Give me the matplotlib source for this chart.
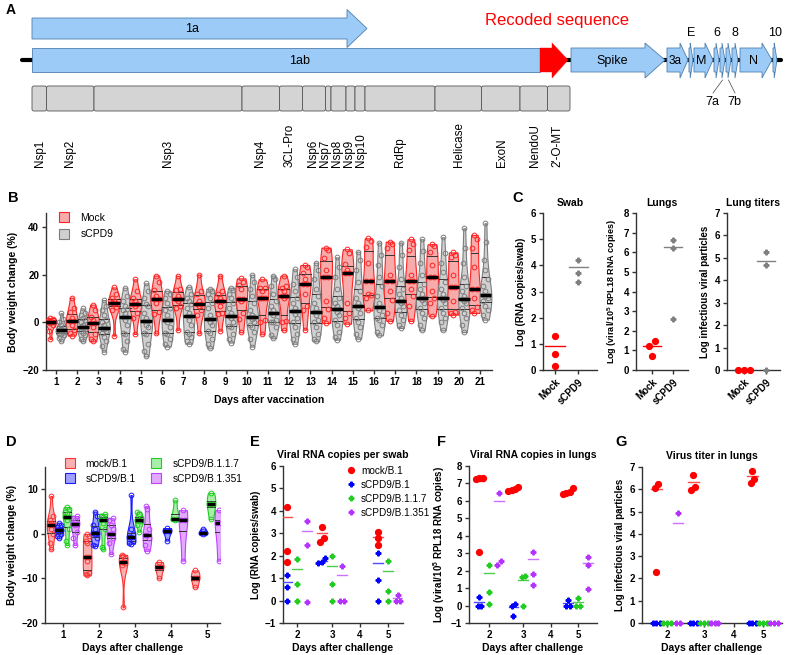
import numpy as np
import matplotlib
matplotlib.use('Agg')
import matplotlib.pyplot as plt
from matplotlib.patches import Polygon, FancyBboxPatch
from matplotlib.lines import Line2D

plt.rcParams['font.family'] = ['Liberation Sans', 'DejaVu Sans']
plt.rcParams['mathtext.fontset'] = 'custom'
plt.rcParams['mathtext.rm'] = 'Liberation Sans'
plt.rcParams['mathtext.bf'] = 'Liberation Sans:bold'

# ======================= DATA =======================
# Panel A : genome map (coordinates along the drawn genome)
nsp_names = ['Nsp1', 'Nsp2', 'Nsp3', 'Nsp4', '3CL-Pro', 'Nsp6', 'Nsp7', 'Nsp8',
             'Nsp9', 'Nsp10', 'RdRp', 'Helicase', 'ExoN', 'NendoU', "2'-O-MT"]
nsp_bounds = [32, 46.5, 94, 242, 279.5, 302.5, 325.5, 331, 346, 355, 365,
              435, 481.5, 520, 547.5, 570]
nsp_label_x = [40, 70, 168, 260, 290, 313, 325, 337, 349, 361, 400, 459, 502, 535, 557]
orf_names = ['Spike', '3a', 'E', 'M', '6', '7a', '7b', '8', 'N', '10']
orf_start = [571, 667, 689, 694, 714, 720, 726, 732, 740, 773]
orf_end = [665, 688, 693, 713, 719, 725, 731, 738, 772, 777]

# Panel B : body weight change (%) after vaccination
vacc_days = list(range(1, 22))
mock_weights = [
    [-7, -3.5, -1, -0.5, 0, 0, 0.5, 1, 1.2, 1.8],
    [-5.6, -4.5, -3.3, -1, 0.5, 0.5, 2, 4.2, 6, 10.3],
    [-8, -7, -5, -2, -0.5, -0.5, 1, 2.4, 5, 7.4],
    [-5.6, 5, 6.5, 7.5, 7.9, 8, 9, 10, 12, 14.6],
    [-4.9, 2, 4, 7, 7.7, 7.7, 9, 10, 13, 18],
    [-4.7, 3.5, 4.2, 8, 9.6, 9.6, 11, 13.6, 17, 19.6],
    [-3.2, 6, 6.7, 9, 9.9, 9.9, 11, 13.5, 14, 19.5],
    [-4.6, 3, 5.2, 7, 7.7, 7.7, 9, 12, 13, 20],
    [-3.5, 3.5, 3.8, 7, 8.9, 8.9, 10, 12, 13, 19.6],
    [-4.2, 1.5, 3.8, 9, 9.9, 9.9, 14, 15.6, 17, 18.4],
    [-5, 0, 1, 10, 10.3, 10.3, 13, 14.2, 14.5, 18],
    [-3.3, 0, 0.7, 10, 11.1, 11.1, 13, 14.2, 15, 19.6],
    [-3.1, 5, 6.7, 12, 16, 16, 18, 20.8, 23, 24],
    [-0.3, 2, 5.5, 9, 18.8, 18.8, 22, 26.8, 30.5, 31.3],
    [-0.6, 2, 3.7, 8, 20.5, 20.5, 22, 24.3, 29, 30.6],
    [5, 10, 11.4, 12, 17.4, 17.4, 25, 31.4, 34, 35.2],
    [0.6, 4, 9.3, 13, 17.4, 17.4, 20, 31, 33, 33.8],
    [0.6, 7, 11, 14, 17.4, 17.4, 20, 30.3, 33, 34.8],
    [2.5, 8, 10, 13, 18.8, 18.8, 24, 29.3, 32, 32.7],
    [3.2, 3.9, 4.5, 9, 14.6, 14.6, 20, 27.5, 28, 29.3],
    [3.9, 5, 6.2, 10, 13.9, 13.9, 23, 31, 35, 36.6],
]
scpd9_weights = [
    [-8, -6.5, -5.5, -5, -4.5, -4, -3.5, -3.2, -3.2, -3, -2.5, -2, -1, 0, 1.5, 3.8],
    [-8, -7, -5.5, -4.5, -3.5, -3, -2.2, -1.8, -1.8, -1, 0, 1, 2, 3, 4, 5.8],
    [-12.3, -10, -8, -6, -4.5, -3.5, -2.8, -2.2, -2.2, -1, 0, 1, 3, 5, 7, 9.3],
    [-12.3, -11, -8, -5, -4.5, -1, 1, 2.4, 2.4, 4, 5, 5.5, 7, 9, 11, 14.5],
    [-14.3, -12, -9, -5, -4.5, -2, -1, 0.7, 0.7, 2, 4, 7, 7.5, 10, 13, 16.3],
    [-10.2, -9, -7, -5, -4.5, -2, 0, 1, 1, 3, 5, 6, 8, 10, 12, 13.2],
    [-9, -8, -6, -5, -4, -1, 1, 2.8, 2.8, 4, 6, 7.5, 9, 10, 12, 14.9],
    [-10.9, -9, -7, -4.5, -3.5, -1, 0, 1.4, 1.4, 3, 6, 8, 10, 12, 13, 14.1],
    [-8.5, -7, -5, -2, -1.5, 0, 2, 2.8, 2.8, 4, 6, 8, 10, 12, 13.5, 14.5],
    [-10.2, -7, -4, -2, -1, 0, 1.5, 2.1, 2.1, 3, 5, 8, 11, 14, 17, 19.9],
    [-6.7, -5.5, -2, 0, 0, 1, 3, 3.8, 3.8, 5, 7, 9, 12, 15, 18, 19.6],
    [-9, -7, -5, -2, 0, 2, 3.5, 4.8, 4.8, 6, 8, 10, 13, 16, 19, 22.2],
    [-8, -7, -5, -2, 0, 1, 3, 4.4, 4.4, 6, 8, 11, 14, 18, 22, 25],
    [-7.3, -6, -4, -1, 1, 3, 4.5, 5.5, 5.5, 7, 8, 10, 14, 19, 23, 27.2],
    [-6.9, -5, -2, 0, 2, 4, 6, 6.7, 6.7, 8, 10, 13, 17, 22, 26, 29.6],
    [-5.5, -4, -1, 1, 2, 3, 5, 6.5, 6.5, 8, 11, 15, 19, 24, 28, 33.4],
    [-2.4, -1, 1, 3, 5, 7, 8, 9, 9, 10, 12, 14, 18, 23, 28, 33.4],
    [-3.4, -1, 2, 4, 6, 8, 9.5, 10.3, 10.3, 12, 14, 16, 20, 25, 30, 34.8],
    [-3.4, 0, 2, 4, 6, 8, 9.5, 10.3, 10.3, 12, 14, 17, 21, 25, 29, 35.6],
    [-4.1, -1, 2, 4, 6, 8, 9, 9.7, 9.7, 11, 13, 15, 19, 25, 31, 39.4],
    [1.1, 3, 5, 7, 9, 10, 11, 11.4, 11.4, 13, 15, 18, 22, 26, 33.5, 41.5],
]

# Panel C
c_groups = ['Mock', 'sCPD9']
c_swab_mock = [1.3, 0.6, 0.15]
c_swab_scpd9 = [4.22, 3.72, 3.35]
c_swab_lines = [0.92, 3.92]
c_lung_mock = [1.5, 1.2, 0.7]
c_lung_scpd9 = [6.6, 6.2, 2.6]
c_lung_lines = [1.22, 6.27]
c_titer_mock = [0, 0, 0]
c_titer_scpd9 = [5.25, 4.68, 0]
c_titer_lines = [0.0, 4.87]

# Panel D : body weight change (%) after challenge
ch_days_d = [1, 2, 3, 4, 5]
d_mock = [[-3.5, -2, 0, 1, 2, 2, 2.5, 3, 4, 8.5],
          [-9.3, -9, -8.7, -6, -5.2, -5.2, -2, -1.5, -0.5, 0],
          [-16.5, -7, -6.5, -6.3, -6.3, -5.5, -5, -4.7],
          [-10, -7.5, -7.5, -6.3],
          [-12, -9.8, -9.8, -8.2]]
d_b1 = [[-1, -0.5, 0, 0.5, 0.8, 0.8, 1, 1.5, 2, 2.5],
        [-2.7, -2.5, -1, 0, 0.2, 0.2, 1, 2, 4, 5],
        [-2.2, -2, -1.5, -0.8, -0.8, 0, 1, 8.7],
        [-1.5, 0.7, 0.7, 1.3],
        [0, 0.2, 0.2, 1.2]]
d_b117 = [[-2.5, -1.5, 1, 3, 3.7, 3.7, 4.5, 5, 5.5, 6],
          [-3.5, -3, 1, 2.5, 3.2, 3.2, 3.8, 4, 4.5],
          [0.5, 2, 2.8, 3, 3, 3.5, 4.5, 5],
          [3, 3.3, 3.3, 7.5],
          [3.3, 6.8, 6.8, 9.2]]
d_b1351 = [[-2.5, -1, 0.5, 2, 2.1, 2.1, 3, 3.5, 4],
           [-4.5, -2, -1, 0, 0, 1, 2, 3, 3.5],
           [-3.8, -2.5, -1, -0.2, -0.2, 1, 5.5, 6.2],
           [-6, 3, 3, 5.3],
           [-6, 2.5, 2.5, 5.3]]
group_names = ['mock/B.1', 'sCPD9/B.1', 'sCPD9/B.1.1.7', 'sCPD9/B.1.351']

# Panels E-G : days 2, 3, 5 after challenge
ch_days = [2, 3, 5]
axis_days = [2, 3, 4, 5]
e_mock = [[4.17, 2.2, 1.72], [3.3, 2.78, 2.6], [2.8, 2.5, 3.05]]
e_b1 = [[1.15, 0.6, 0], [1.9, 1.7, 1.68], [2.12, 0.93, 0]]
e_b117 = [[1.85, 0.75, 0], [2.0, 0.75, 0], [1.75, 0.42, 0]]
e_b1351 = [[3.55, 2.5, -0.05], [1.55, 0, 0], [0.27, 0, 0]]
e_lines = [[3.72, 3.0, 2.82], [0.82, 1.78, 1.68], [1.42, 1.55, 1.3], [3.12, 1.12, 0.1]]

f_mock = [[7.3, 7.27, 7.33, 3.08], [6.62, 6.58, 6.7, 6.81], [6.5, 6.45, 6.4, 6.75]]
f_b1 = [[0.48, 0, 0], [0.07, 0, -0.58], [0.3, 0, 0]]
f_b117 = [[2.33, 0.78, 0.1], [1.67, 1.65, 0], [0.45, 0, 0]]
f_b1351 = [[6.47, 2.55, 2.35], [3.08, 1.8, 1.18], [2.77, 2.3, 0.93]]
f_lines = [[7.15, 6.62, 6.55], [0.2, -0.08, 0.13], [1.87, 1.47, 0.2], [6.0, 2.65, 2.43]]

g_mock = [[6.05, 6.25, 2.3], [6.65, 6.1, 5.95], [6.83, 6.47, 6.3]]
g_b1 = [[0, 0, 0], [0, 0, 0], [0, 0, 0]]
g_b117 = [[0, 0, 0], [0, 0, 0], [0, 0, 0]]
g_b1351 = [[4.95, 0, 0], [0, 0, 0], [0, 0, 0]]
g_lines = [[6.0, 6.33, 6.6], [0, 0, 0], [0, 0, 0], [4.47, 0, 0]]

# ======================= STYLE =======================
RED, BLUE, GREEN, PURPLE, GRAY = '#ff0000', '#0000ff', '#22cc22', '#b533ff', '#808080'
LUNG_LABEL = r'Log (viral/10$^{\mathbf{5}}$ RPL18 RNA copies)'
W, H = 785, 655
fig = plt.figure(figsize=(W / 100, H / 100), dpi=100)


def ax_px(l, t, r, b):
    return fig.add_axes([l / W, 1 - b / H, (r - l) / W, (b - t) / H])


def style(ax, fs=7):
    for s in ['top', 'right']:
        ax.spines[s].set_visible(False)
    for s in ['left', 'bottom']:
        ax.spines[s].set_color('#333333')
        ax.spines[s].set_linewidth(1.0)
    ax.tick_params(direction='out', length=3, width=1, color='#333333',
                   labelsize=fs, pad=2)
    for lab in ax.get_xticklabels() + ax.get_yticklabels():
        lab.set_fontweight('bold')


def fig_text(x, y, s, **kw):
    fig.text(x / W, 1 - y / H, s, **kw)


def violin(ax, data, pos, width, edge, fill, dx):
    d = np.sort(np.asarray(data, float))
    lo, hi = d.min(), d.max()
    sd = d.std(ddof=1)
    bw = max(sd * len(d) ** (-0.2), 0.6)
    ys = np.linspace(lo, hi, 150)
    dens = np.exp(-0.5 * ((ys[:, None] - d[None, :]) / bw) ** 2).sum(1)
    half = dens / dens.max() * width / 2
    ax.fill_betweenx(ys, pos - half, pos + half, facecolor=fill, edgecolor=edge,
                     lw=0.8, zorder=2)
    q1, med, q3 = np.percentile(d, [25, 50, 75])
    for q in (q1, q3):
        hw = np.interp(q, ys, half)
        ax.plot([pos - hw, pos + hw], [q, q], color='#333333', lw=0.7, zorder=3)
    hw = np.interp(med, ys, half)
    ax.plot([pos - max(hw, width * 0.3), pos + max(hw, width * 0.3)], [med, med],
            color='black', lw=2.4, zorder=5, solid_capstyle='butt')
    cyc = [0, -1, 1]
    xs = []
    for i, v in enumerate(d):
        hwv = np.interp(v, ys, half)
        xs.append(pos + cyc[i % 3] * min(dx, 0.75 * hwv))
    ax.plot(xs, d, 'o', ms=3.4, mfc='none', mec=edge, mew=0.7, zorder=4)


def spread(vals, tol, dx):
    vals = np.asarray(vals, float)
    order = np.argsort(vals)
    offs = np.zeros(len(vals))
    clusters = [[order[0]]]
    for a, b in zip(order[:-1], order[1:]):
        if vals[b] - vals[a] < tol:
            clusters[-1].append(b)
        else:
            clusters.append([b])
    for c in clusters:
        k = len(c)
        for j, idx in enumerate(c):
            offs[idx] = (j - (k - 1) / 2) * dx
    return offs


def scatter_group(ax, vals, pos, color, marker, ms, tol, dx, line=None, lhalf=0.14,
                  lcolor=None):
    offs = spread(vals, tol, dx)
    ax.plot(pos + offs, vals, linestyle='none', marker=marker, ms=ms, color=color,
            mec=color, zorder=4, clip_on=False)
    if line is not None:
        ax.plot([pos - lhalf, pos + lhalf], [line, line], color=lcolor or color,
                lw=1.0, zorder=3)


# ======================= PANEL A =======================
axA = ax_px(0, 0, 785, 170)
axA.set_xlim(0, 785)
axA.set_ylim(170, 0)
axA.axis('off')
LB, EB = '#9ccbf7', '#4f7fae'
axA.plot([22, 781], [60, 60], color='black', lw=3, solid_capstyle='round', zorder=0)


def arrow(x0, x1, hl, body, head, fc, ec, lw=0.6):
    ym = (body[0] + body[1]) / 2
    hl = min(hl, (x1 - x0) * 0.7)
    xh = x1 - hl
    pts = [(x0, body[0]), (xh, body[0]), (xh, head[0]), (x1, ym),
           (xh, head[1]), (xh, body[1]), (x0, body[1])]
    axA.add_patch(Polygon(pts, closed=True, fc=fc, ec=ec, lw=lw, zorder=2))


arrow(32, 367, 20, (18, 39), (9.5, 47.5), LB, EB)
axA.text(192, 29, '1a', ha='center', va='center', fontsize=9)
axA.add_patch(Polygon([(32, 48), (540, 48), (540, 72), (32, 72)], closed=True,
                      fc=LB, ec=EB, lw=0.6, zorder=2))
axA.text(300, 61, '1ab', ha='center', va='center', fontsize=9)
arrow(540, 568, 16, (48, 72), (43, 78), '#ff0000', '#ff0000', lw=0.3)
axA.text(557, 20, 'Recoded sequence', color='#ff0000', ha='center', va='center',
         fontsize=12)
for name, s, e in zip(orf_names, orf_start, orf_end):
    hl = 20 if name == 'Spike' else (10 if name == 'N' else (8 if name in ('3a', 'M') else 3))
    arrow(s, e, hl, (48, 72), (43, 78), LB, EB)
    if name in ('Spike', '3a', 'M', 'N'):
        axA.text((s + e) / 2 - (6 if name == 'Spike' else 2), 61, name,
                 ha='center', va='center', fontsize=9 if name != '3a' else 8.5)
    elif name in ('E', '6', '8', '10'):
        axA.text((s + e) / 2, 33, name, ha='center', va='center', fontsize=9)
    else:
        lx = 712 if name == '7a' else 734
        axA.plot([(s + e) / 2, lx + 1], [80, 93], color='#444444', lw=0.5)
        axA.text(lx, 102, name, ha='center', va='center', fontsize=9)
for i in range(len(nsp_names)):
    x0, x1 = nsp_bounds[i], nsp_bounds[i + 1]
    axA.add_patch(FancyBboxPatch((x0, 86), x1 - x0, 25,
                                 boxstyle='round,pad=0,rounding_size=2',
                                 fc='#d4d4d4', ec='#555555', lw=0.6))
    axA.text(nsp_label_x[i], 167, nsp_names[i], rotation=90, ha='center',
             va='bottom', fontsize=8.4)
axA.text(6, 10, 'A', fontsize=10, fontweight='bold', va='center')

# ======================= PANEL B =======================
axB = ax_px(46, 213, 492, 370)
for i, d in enumerate(vacc_days):
    violin(axB, mock_weights[i], d - 0.26, 0.56, '#ff2222', '#f7abab', 0.1)
    violin(axB, scpd9_weights[i], d + 0.26, 0.56, '#7d7d7d', '#d0d0d0', 0.1)
axB.set_xlim(0.53, 21.57)
axB.set_ylim(-20, 45.8)
axB.set_xticks(vacc_days)
axB.set_yticks([-20, 0, 20, 40])
axB.set_ylabel('Body weight change (%)', fontsize=7.5, fontweight='bold', labelpad=3)
axB.set_xlabel('Days after vaccination', fontsize=7.5, fontweight='bold', labelpad=6)
style(axB)
hB = [Line2D([], [], ls='none', marker='s', ms=6.5, mfc='#f7abab', mec='#ff2222', mew=0.8),
      Line2D([], [], ls='none', marker='s', ms=6.5, mfc='#d0d0d0', mec='#7d7d7d', mew=0.8)]
axB.legend(hB, ['Mock', 'sCPD9'], loc='upper left', bbox_to_anchor=(-0.005, 1.06),
           frameon=False, fontsize=7.5, handletextpad=0.6, labelspacing=0.6)
fig_text(8, 198, 'B', fontsize=10.5, fontweight='bold', va='center')

# ======================= PANEL C =======================
fig_text(512, 198, 'C', fontsize=10.5, fontweight='bold', va='center')
c_specs = [
    ((543, 213, 597, 370), c_swab_mock, c_swab_scpd9, c_swab_lines, 6, (-0.52, 1.8),
     'Swab', 'Log (RNA copies/swab)', 7),
    ((636, 213, 688, 370), c_lung_mock, c_lung_scpd9, c_lung_lines, 8, (-0.75, 1.7),
     'Lungs', LUNG_LABEL, 6.5),
    ((727, 213, 780, 370), c_titer_mock, c_titer_scpd9, c_titer_lines, 7, (-0.77, 1.64),
     'Lung titers', 'Log infectious viral particles', 7),
]
for box, mvals, svals, lines, ytop, xl, title, ylab, yfs in c_specs:
    ax = ax_px(*box)
    scatter_group(ax, mvals, 0, RED, 'o', 4.2, ytop * 0.04, 0.27, lines[0], 0.42)
    scatter_group(ax, svals, 1, GRAY, 'P', 3.4, ytop * 0.04, 0.27, lines[1], 0.42)
    ax.set_xlim(*xl)
    ax.set_ylim(0, ytop)
    ax.set_yticks(range(0, ytop + 1))
    ax.set_xticks([0, 1])
    ax.set_xticklabels(c_groups, rotation=45, ha='right', rotation_mode='anchor')
    ax.set_title(title, fontsize=7.5, fontweight='bold', pad=5)
    ax.set_ylabel(ylab, fontsize=yfs, fontweight='bold', labelpad=3)
    style(ax)

# ======================= PANEL D =======================
axD = ax_px(45, 467, 220, 623)
d_sets = [(d_mock, '#ff3030', '#f8b0b0', -0.33), (d_b1, '#1a1aff', '#a0a0ff', -0.11),
          (d_b117, '#1fcc1f', '#a8eea8', 0.11), (d_b1351, '#c040ff', '#e2aaff', 0.33)]
for vals, ec, fc, off in d_sets:
    for j, day in enumerate(ch_days_d):
        violin(axD, vals[j], day + off, 0.24, ec, fc, 0.045)
axD.set_xlim(0.5, 5.36)
axD.set_ylim(-20, 15)
axD.set_xticks(ch_days_d)
axD.set_yticks([-20, -10, 0, 10])
axD.set_ylabel('Body weight change (%)', fontsize=7.5, fontweight='bold', labelpad=3)
axD.set_xlabel('Days after challenge', fontsize=7.5, fontweight='bold', labelpad=2)
style(axD)
hD = [Line2D([], [], ls='none', marker='s', ms=6.8, mfc=fc, mec=ec, mew=0.8)
      for _, ec, fc, _ in d_sets]
axD.legend(hD, group_names, loc='upper left', bbox_to_anchor=(0.03, 1.11), ncol=2,
           frameon=False, fontsize=7.3, handletextpad=0.6, labelspacing=0.5,
           columnspacing=1.0)
fig_text(6, 442, 'D', fontsize=10.5, fontweight='bold', va='center')

# ======================= PANELS E, F, G =======================
day_pos = {2: 2.0, 3: 3.0, 4: 3.8, 5: 4.6}
cols = [RED, BLUE, GREEN, PURPLE]
lcols = ['#ff4d4d', '#4d4dff', '#4dcc4d', '#cc70ff']
marks = ['o', 'P', 'P', 'P']
sizes = [4.2, 3.4, 3.4, 3.4]
offs = [-0.29, -0.29, 0.0, 0.29]


def challenge_panel(box, sets, lines, ylim, title, ylab, tol, xl, letter, lpos):
    ax = ax_px(*box)
    for g, vals in enumerate(sets):
        for j, day in enumerate(ch_days):
            scatter_group(ax, vals[j], day_pos[day] + offs[g], cols[g], marks[g],
                          sizes[g], tol, 0.1, lines[g][j], 0.14, lcols[g])
    ax.set_xlim(*xl)
    ax.set_ylim(*ylim)
    ax.set_yticks(range(ylim[0], ylim[1] + 1))
    ax.set_xticks([day_pos[d] for d in axis_days])
    ax.set_xticklabels([str(d) for d in axis_days])
    ax.set_title(title, fontsize=7.5, fontweight='bold', pad=6)
    ax.set_ylabel(ylab, fontsize=7, fontweight='bold', labelpad=3)
    ax.set_xlabel('Days after challenge', fontsize=7.5, fontweight='bold', labelpad=2)
    style(ax)
    fig_text(lpos[0], lpos[1], letter, fontsize=10.5, fontweight='bold', va='center')
    return ax


axE = challenge_panel((283, 466, 403, 623), [e_mock, e_b1, e_b117, e_b1351], e_lines,
                      (-1, 6), 'Viral RNA copies per swab', 'Log (RNA copies/swab)',
                      0.25, (1.6, 5.03), 'E', (250, 442))
hE = [Line2D([], [], ls='none', marker=m, ms=s, color=c) for m, s, c in zip(marks, sizes, cols)]
axE.legend(hE, group_names, loc='upper left', bbox_to_anchor=(0.44, 1.06), frameon=False,
           fontsize=7.2, handletextpad=0.4, labelspacing=0.4, handlelength=1.2)
challenge_panel((469, 466, 597, 623), [f_mock, f_b1, f_b117, f_b1351], f_lines,
                (-1, 8), 'Viral RNA copies in lungs', LUNG_LABEL,
                0.3, (1.41, 5.16), 'F', (437, 442))
challenge_panel((642, 467, 782, 623), [g_mock, g_b1, g_b117, g_b1351], g_lines,
                (0, 7), 'Virus titer in lungs', 'Log infectious viral particles',
                0.25, (1.32, 5.11), 'G', (615, 442))

fig.savefig('out.png', dpi=100)
